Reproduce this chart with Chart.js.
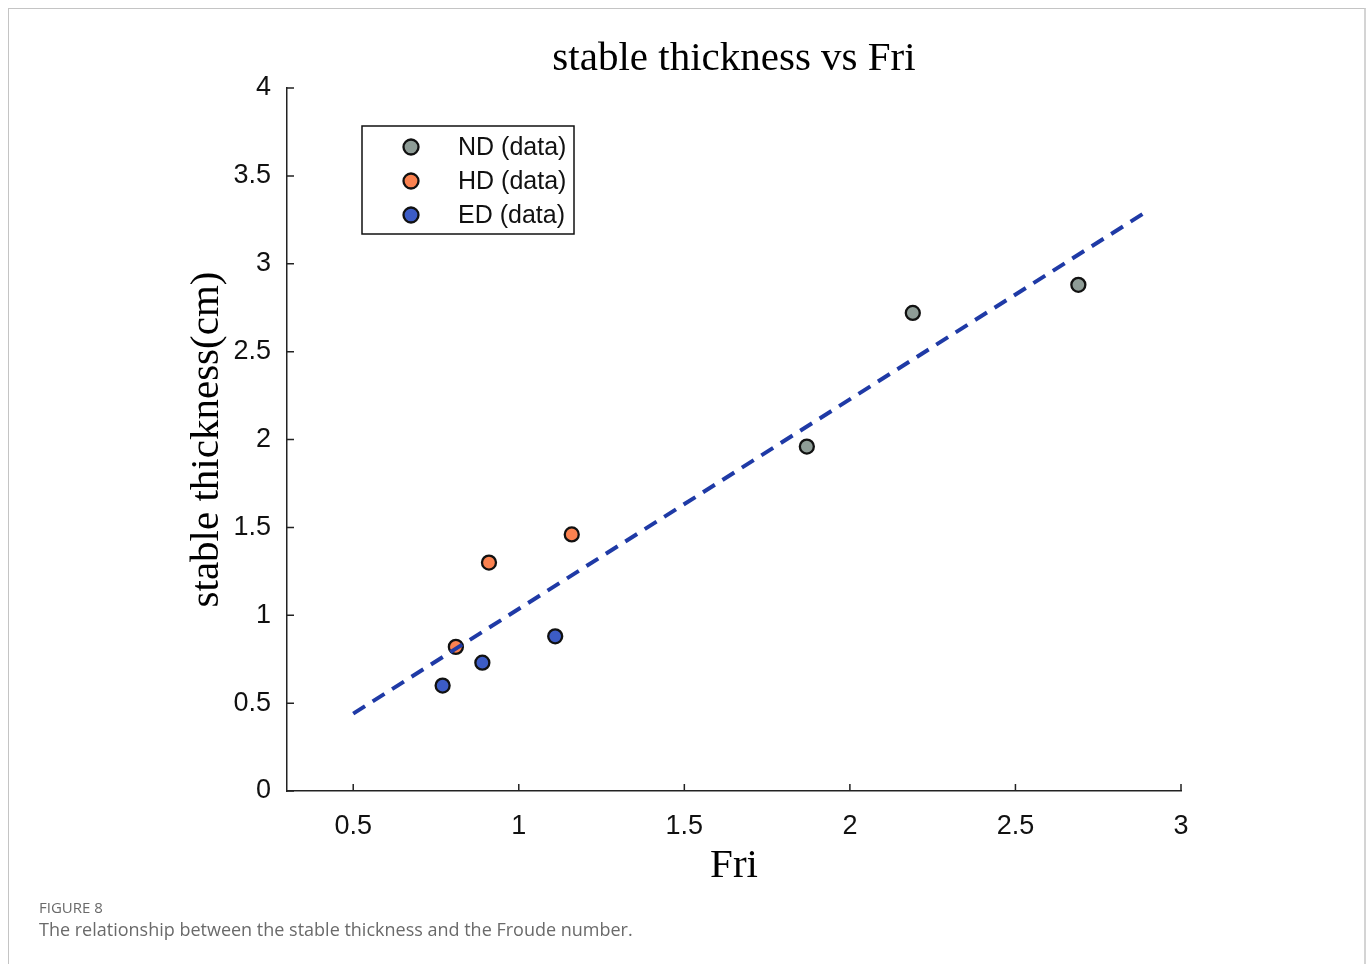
<!DOCTYPE html>
<html>
<head>
<meta charset="utf-8">
<script src="https://cdn.jsdelivr.net/npm/chart.js@4.4.1/dist/chart.umd.min.js"></script>
<style>
  html, body { margin: 0; padding: 0; background: #fff; }
  body { width: 1372px; height: 964px; position: relative; overflow: hidden; }
  #frame {
    position: absolute; left: 8px; top: 8px; width: 1358px; height: 980px;
    border: 1px solid #c4c4c4; border-right: 2px solid #d4d4d4; box-sizing: border-box;
  }
  #plot { position: absolute; left: 0; top: 0; }
  .cap1 { position: absolute; left: 39px; top: 897px; font: 15px "Open Sans", sans-serif; color: #6a6a6a; }
  .cap2 { position: absolute; left: 39px; top: 917px; font: 18px "Open Sans", sans-serif; color: #6a6a6a; }
</style>
</head>
<body>
<div id="frame"></div>
<canvas id="plot" width="1372" height="964"></canvas>
<div class="cap1">FIGURE 8</div>
<div class="cap2">The relationship between the stable thickness and the Froude number.</div>
<script>
// valores
const ndX = [1.87, 2.19, 2.69];
const ndY = [1.96, 2.72, 2.88];
const hdX = [0.81, 0.91, 1.16];
const hdY = [0.82, 1.30, 1.46];
const edX = [0.77, 0.89, 1.11];
const edY = [0.60, 0.73, 0.88];
// recta de ajuste (extremos)
const fitX = [0.5, 2.89];
const fitY = [0.44, 3.29];

const xTicks = [0.5, 1, 1.5, 2, 2.5, 3];
const yTicks = [0, 0.5, 1, 1.5, 2, 2.5, 3, 3.5, 4];

const plotTitle = 'stable thickness vs Fri';
const xTitle = 'Fri';
const yTitle = 'stable thickness(cm)';

const serif = "'Liberation Serif', 'Times New Roman', serif";
const sans = "'Liberation Sans', Arial, sans-serif";

function pts(xs, ys) {
    return xs.map((x, i) => ({ x: x, y: ys[i] }));
}

function markerSet(label, xs, ys, fill) {
    return {
        label: label,
        data: pts(xs, ys),
        showLine: false,
        pointRadius: 7,
        pointBorderWidth: 2.3,
        pointBackgroundColor: fill,
        pointBorderColor: '#111',
        inLegend: true
    };
}

// titulo centrado sobre el area del grafico
const titlePlugin = {
    id: 'plotTitle',
    afterDraw(chart) {
        const { ctx, chartArea } = chart;
        ctx.save();
        ctx.font = '41px ' + serif;
        ctx.fillStyle = '#000';
        ctx.textAlign = 'center';
        ctx.textBaseline = 'middle';
        ctx.fillText(plotTitle, (chartArea.left + chartArea.right) / 2, 59);
        ctx.restore();
    }
};

// marcas de los ejes hacia adentro
const innerTicks = {
    id: 'innerTicks',
    afterDraw(chart) {
        const { ctx, chartArea, scales } = chart;
        ctx.save();
        ctx.strokeStyle = '#222';
        ctx.lineWidth = 1.5;
        ctx.beginPath();
        scales.x.ticks.forEach(t => {
            const px = scales.x.getPixelForValue(t.value);
            ctx.moveTo(px, chartArea.bottom);
            ctx.lineTo(px, chartArea.bottom - 7);
        });
        scales.y.ticks.forEach(t => {
            const py = scales.y.getPixelForValue(t.value);
            ctx.moveTo(chartArea.left, py);
            ctx.lineTo(chartArea.left + 7, py);
        });
        ctx.stroke();
        ctx.restore();
    }
};

// leyenda con recuadro dentro del area
const boxLegend = {
    id: 'boxLegend',
    afterDraw(chart) {
        const { ctx, chartArea } = chart;
        const items = chart.data.datasets.filter(d => d.inLegend);
        const x0 = chartArea.left + 75, y0 = chartArea.top + 38;
        const w = 212, rowH = 34, h = 108;
        ctx.save();
        ctx.fillStyle = '#fff';
        ctx.fillRect(x0, y0, w, h);
        ctx.strokeStyle = '#111';
        ctx.lineWidth = 1.5;
        ctx.strokeRect(x0, y0, w, h);
        ctx.font = '25px ' + sans;
        ctx.textBaseline = 'middle';
        items.forEach((d, i) => {
            const cy = y0 + 21 + i * rowH;
            ctx.beginPath();
            ctx.arc(x0 + 49, cy, 7.5, 0, Math.PI * 2);
            ctx.fillStyle = d.pointBackgroundColor;
            ctx.fill();
            ctx.lineWidth = 2.3;
            ctx.strokeStyle = '#111';
            ctx.stroke();
            ctx.fillStyle = '#111';
            ctx.fillText(d.label, x0 + 96, cy + 1);
        });
        ctx.restore();
    }
};

new Chart(document.getElementById('plot'), {
    type: 'scatter',
    data: {
        datasets: [
            {
                label: 'fit',
                data: pts(fitX, fitY),
                showLine: true,
                borderColor: '#1f3aa6',
                borderWidth: 4,
                borderDash: [14, 9],
                pointRadius: 0,
                fill: false
            },
            markerSet('ND (data)', ndX, ndY, '#8e9c96'),
            markerSet('HD (data)', hdX, hdY, '#fb8250'),
            markerSet('ED (data)', edX, edY, '#3c5cc6')
        ]
    },
    options: {
        responsive: false,
        animation: false,
        devicePixelRatio: 1,
        layout: { padding: { left: 0, right: 191, top: 88, bottom: 0 } },
        plugins: {
            legend: { display: false },
            tooltip: { enabled: false }
        },
        scales: {
            x: {
                type: 'linear',
                min: 0.3,
                max: 3,
                afterBuildTicks: s => { s.ticks = xTicks.map(v => ({ value: v })); },
                afterFit: s => { s.height = 173; },
                grid: { display: false },
                border: { display: true, color: '#222', width: 1.5 },
                ticks: {
                    color: '#111',
                    padding: 11,
                    font: { family: sans, size: 27 },
                    callback: v => String(v)
                },
                title: {
                    display: true,
                    text: xTitle,
                    color: '#000',
                    font: { family: serif, size: 41 },
                    padding: { top: 0, bottom: 73 }
                }
            },
            y: {
                type: 'linear',
                min: 0,
                max: 4,
                afterBuildTicks: s => { s.ticks = yTicks.map(v => ({ value: v })); },
                afterFit: s => { s.width = 287; },
                grid: { display: false },
                border: { display: true, color: '#222', width: 1.5 },
                ticks: {
                    color: '#111',
                    padding: 8,
                    font: { family: sans, size: 27 },
                    callback: v => String(v)
                },
                title: {
                    display: true,
                    text: yTitle,
                    color: '#000',
                    font: { family: serif, size: 41 },
                    padding: { top: 183, bottom: 0 }
                }
            }
        }
    },
    plugins: [titlePlugin, innerTicks, boxLegend]
});
</script>
</body>
</html>
